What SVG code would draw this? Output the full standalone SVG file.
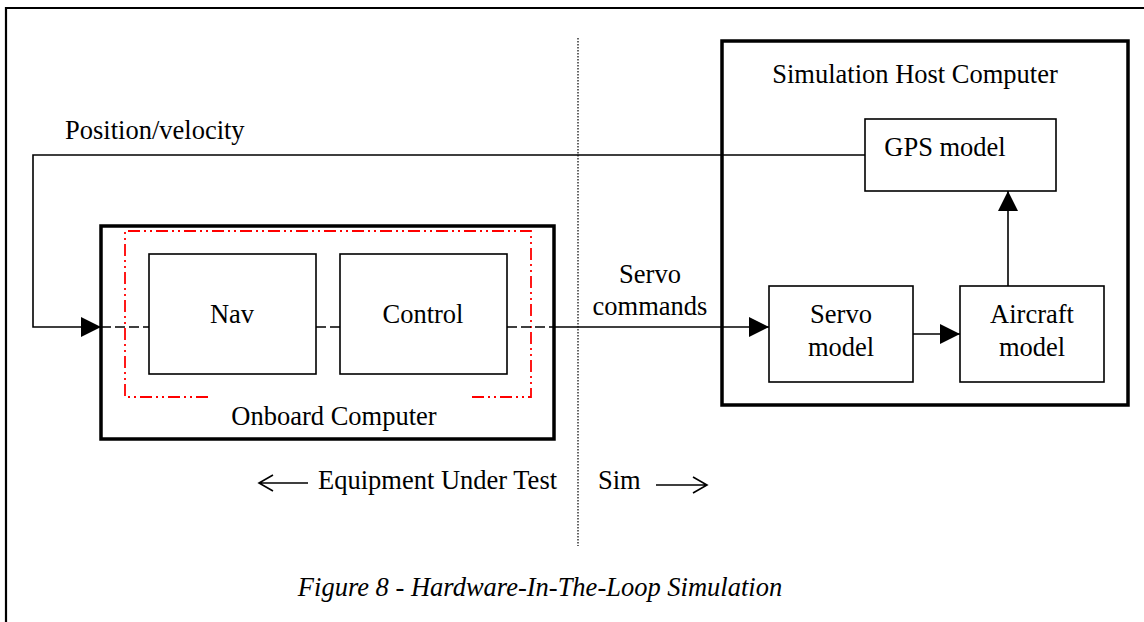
<svg xmlns="http://www.w3.org/2000/svg" width="1144" height="622" viewBox="0 0 1144 622">
<style>
text{font-family:"Liberation Serif","Times New Roman",serif;font-size:26.5px;fill:#000}
.thin{fill:none;stroke:#000;stroke-width:1.6}
.thick{fill:#fff;stroke:#000;stroke-width:3.5}
.box{fill:#fff;stroke:#000;stroke-width:1.6}
.red{fill:none;stroke:#f00;stroke-width:1.8;stroke-dasharray:12 4 2 4 2 4}
</style>
<defs>
<marker id="ah" viewBox="0 0 10 10" refX="10" refY="5" markerWidth="20" markerHeight="20" markerUnits="userSpaceOnUse" orient="auto"><path d="M0,0 L10,5 L0,10 Z" fill="#000"/></marker>
</defs>
<rect width="1144" height="622" fill="#fff"/>
<path d="M6,622 V8 H1144" fill="none" stroke="#000" stroke-width="2.2"/>
<g id="onboard">
<rect class="thick" x="101" y="226" width="453" height="213"/>
<path class="red" d="M208,397 H125 V231 H531 V397 H471"/>
<text x="334" y="425" text-anchor="middle">Onboard Computer</text>
</g>
<g id="host">
<rect class="thick" x="722" y="41" width="406" height="364"/>
<text x="915" y="83" text-anchor="middle">Simulation Host Computer</text>
</g>
<g id="nav"><rect class="box" x="149" y="254" width="167" height="120"/><text x="232" y="323" text-anchor="middle">Nav</text></g>
<g id="control"><rect class="box" x="340" y="254" width="167" height="120"/><text x="423" y="323" text-anchor="middle">Control</text></g>
<g id="gps"><rect class="box" x="865" y="119" width="191" height="72"/><text x="945" y="156" text-anchor="middle">GPS model</text></g>
<g id="servo"><rect class="box" x="769" y="286" width="144" height="96"/><text x="841" y="323" text-anchor="middle">Servo</text><text x="841" y="356" text-anchor="middle">model</text></g>
<g id="aircraft"><rect class="box" x="960" y="286" width="144" height="96"/><text x="1032" y="323" text-anchor="middle">Aircraft</text><text x="1032" y="356" text-anchor="middle">model</text></g>
<g id="connectors">
<path class="thin" d="M865,155 H33 V327 H101" marker-end="url(#ah)"/>
<path class="thin" d="M101,327 H149" stroke-dasharray="10 4"/>
<path class="thin" d="M316,327 H340" stroke-dasharray="10 4"/>
<path class="thin" d="M507,327 H554" stroke-dasharray="10 4"/>
<path class="thin" d="M554,327 H769" marker-end="url(#ah)"/>
<path class="thin" d="M913,334 H960" marker-end="url(#ah)"/>
<path class="thin" d="M1008,286 V191" marker-end="url(#ah)"/>
<path d="M578,38 V546" fill="none" stroke="#000" stroke-width="1.2" stroke-dasharray="1.5 1.5"/>
<path class="thin" d="M259,483 H308 M273,475 L259,483 L273,491"/>
<path class="thin" d="M656,485 H707 M693,477 L707,485 L693,493"/>
</g>
<text x="65" y="139">Position/velocity</text>
<text x="650" y="283" text-anchor="middle">Servo</text>
<text x="650" y="315" text-anchor="middle">commands</text>
<text x="318" y="489">Equipment Under Test</text>
<text x="598" y="489">Sim</text>
<text x="540" y="596" text-anchor="middle" font-style="italic">Figure 8 - Hardware-In-The-Loop Simulation</text>
</svg>
